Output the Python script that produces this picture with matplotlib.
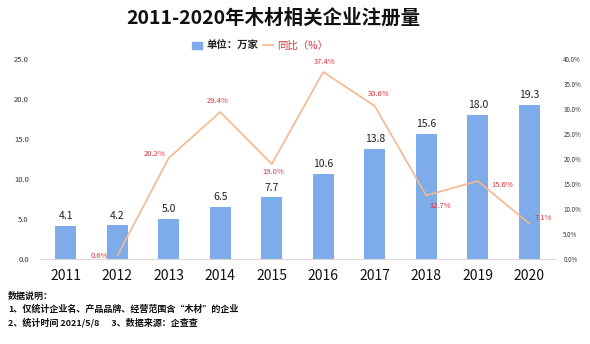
import matplotlib
matplotlib.use("Agg")
import matplotlib.pyplot as plt
from matplotlib.lines import Line2D
from matplotlib.patches import Patch

plt.rcParams['font.family'] = ['Noto Sans CJK SC', 'DejaVu Sans']

years = ['2011', '2012', '2013', '2014', '2015', '2016', '2017', '2018', '2019', '2020']
counts = [4.1, 4.2, 5.0, 6.5, 7.7, 10.6, 13.8, 15.6, 18.0, 19.3]
yoy = [None, 0.6, 20.2, 29.4, 19.0, 37.4, 30.6, 12.7, 15.6, 7.1]
left_ticks = [0, 5, 10, 15, 20, 25]
right_ticks = [0, 5, 10, 15, 20, 25, 30, 35, 40]

bar_color = '#7EABE9'
line_color = '#F6B78C'
red = '#E0343C'

fig = plt.figure(figsize=(5.9, 3.44), dpi=100)
ax = fig.add_axes([40/590, 1-259/344, 515/590, 200/344])
ax2 = ax.twinx()

x = list(range(len(years)))
ax.bar(x, counts, width=0.4, color=bar_color, zorder=2)
for xi, v in zip(x, counts):
    ax.text(xi, v + 0.6, f'{v:.1f}', ha='center', va='bottom', fontsize=7.5, color='#222222')

ax.set_xlim(-0.5, 9.5)
ax.set_ylim(0, 25)
ax.set_yticks(left_ticks)
ax.set_yticklabels([f'{t:.1f}' for t in left_ticks], fontsize=5.5, color='#333333')
ax.set_xticks(x)
ax.set_xticklabels(years, fontsize=10, color='#111111')
ax.tick_params(axis='both', length=0)
ax.tick_params(axis='x', pad=7)
ax.tick_params(axis='y', pad=8)
for s in ['top', 'right', 'left']:
    ax.spines[s].set_visible(False)
ax.spines['bottom'].set_color('#D9D9D9')

lx = [xi for xi, v in zip(x, yoy) if v is not None]
ly = [v for v in yoy if v is not None]
ax2.plot(lx, ly, color=line_color, lw=1.2, zorder=3)
ax2.set_ylim(0, 40)
ax2.set_yticks(right_ticks)
ax2.set_yticklabels([f'{t:.1f}%' for t in right_ticks], fontsize=4.5, color='#333333')
ax2.tick_params(axis='y', length=0, pad=6)
for s in ['top', 'right', 'left', 'bottom']:
    ax2.spines[s].set_visible(False)

# label offsets (points)
offsets = {1: (-13, 0), 2: (-10, 3), 3: (-2, 5), 4: (1, -3), 5: (1, 4),
           6: (3, 6), 7: (10, -5), 8: (18, -3), 9: (10, 4)}
vas = {1: 'center', 2: 'center', 3: 'bottom', 4: 'top', 5: 'bottom',
       6: 'bottom', 7: 'top', 8: 'center', 9: 'center'}
for xi, v in zip(lx, ly):
    dx, dy = offsets[xi]
    ax2.annotate(f'{v:.1f}%', (xi, v), xytext=(dx, dy), textcoords='offset points',
                 ha='center', va=vas[xi], fontsize=5.5, color=red, zorder=4)

fig.text(273/590, 1-18/344, '2011-2020年木材相关企业注册量', ha='center', va='center',
         fontsize=14, fontweight='bold', color='#111111')

handles = [Patch(color=bar_color), Line2D([0], [0], color=line_color, lw=1.2)]
leg = fig.legend(handles, ['单位：万家', '同比（%）'], loc='center', bbox_to_anchor=(260/590, 1-46/344),
                 ncol=2, frameon=False, fontsize=7.5, handlelength=1.0, handleheight=0.8,
                 columnspacing=0.4, handletextpad=0.4)
leg.get_texts()[0].set_color('#222222')
leg.get_texts()[0].set_fontweight('bold')
leg.get_texts()[1].set_color(red)

notes = ['数据说明：', '1、仅统计企业名、产品品牌、经营范围含“木材”的企业',
         '2、统计时间 2021/5/8      3、数据来源：企查查']
for i, t in enumerate(notes):
    fig.text(8/590, 1-(296 + i*13.5)/344, t, ha='left', va='center', fontsize=6.5,
             fontweight='bold', color='#111111')

fig.savefig('out.png', dpi=100)
